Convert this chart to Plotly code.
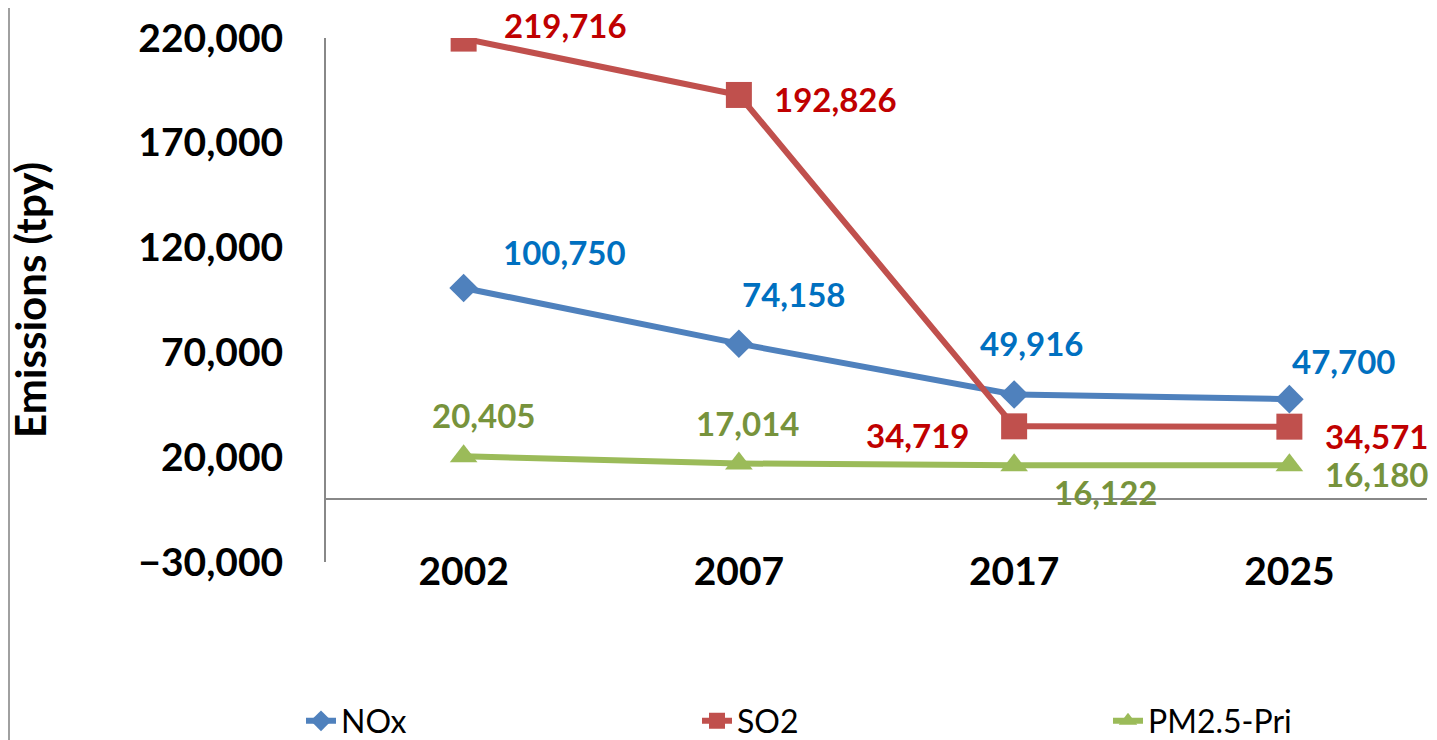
import plotly.graph_objects as go

years = ["2002", "2007", "2017", "2025"]
nox = [100750, 74158, 49916, 47700]
so2 = [219716, 192826, 34719, 34571]
pm25 = [20405, 17014, 16122, 16180]
y_ticks = [-30000, 20000, 70000, 120000, 170000, 220000]

FONT = "Lato"
OFF = 8  # page body margin
W, H = 1437 - OFF, 740 - OFF
PLOT_L, PLOT_R = 326 - OFF, 1427 - OFF
PLOT_T, PLOT_B = 38 - OFF, 562 - OFF
PLOT_W, PLOT_H = PLOT_R - PLOT_L, PLOT_B - PLOT_T

series = [
    ("NOx", nox, "#4F81BD", "#0070C0", "diamond", 22, "legend", 346,
     [(101, 36), (55, 50), (17, 52), (54, 38)]),
    ("SO2", so2, "#C0504D", "#C00000", "square", 26, "legend2", 742,
     [(102, 14), (97, -4), (-97, -9), (87, -9)]),
    ("PM2.5-Pri", pm25, "#9BBB59", "#77933C", "triangle-up", 24, "legend3", 1153,
     [(20, 41), (9, 40), (91, -27), (87, -9)]),
]

fig = go.Figure()
legend_layout = {}
for name, vals, lc, tc, sym, ms, lg, text_x, offs in series:
    fig.add_trace(go.Scatter(
        x=years, y=vals, name=name, mode="lines+markers",
        line=dict(color=lc, width=6),
        marker=dict(symbol=sym, size=ms, color=lc, line=dict(width=0)),
        legend=lg,
    ))
    for i, v in enumerate(vals):
        dx, dy = offs[i]
        fig.add_annotation(
            x=i, y=v, text=f"{v:,}", showarrow=False,
            xshift=dx, yshift=dy,
            font=dict(family=FONT, size=33, color=tc, weight="bold"),
        )
    legend_layout[lg] = dict(
        orientation="h", xref="container", yref="container",
        x=(text_x - 45 - OFF) / W, y=(H - (721 - OFF)) / H,
        xanchor="left", yanchor="middle",
        font=dict(family=FONT, size=32, color="black"),
        bgcolor="rgba(0,0,0,0)",
    )

fig.add_annotation(
    xref="paper", yref="paper", x=(30 - OFF - PLOT_L) / PLOT_W, y=0.5,
    xanchor="center", yanchor="middle",
    text="Emissions (tpy)", textangle=-90, showarrow=False,
    font=dict(family=FONT, size=42, color="black", weight="bold"),
)

# outer chart border (left edge)
fig.add_shape(type="line", xref="paper", yref="paper",
              x0=(1 - PLOT_L) / PLOT_W, x1=(1 - PLOT_L) / PLOT_W,
              y0=-0.5, y1=1.2,
              line=dict(color="#A0A0A0", width=2))

fig.update_layout(
    width=W, height=H,
    margin=dict(l=PLOT_L, r=W - PLOT_R, t=PLOT_T, b=H - PLOT_B),
    plot_bgcolor="white", paper_bgcolor="white",
    font=dict(family=FONT, color="black"),
    showlegend=True,
    xaxis=dict(
        type="category", range=[-0.5, 3.5], showgrid=False, showline=False,
        zeroline=False, ticks="", automargin=False, ticklabelstandoff=-17,
        tickfont=dict(family=FONT, size=39, weight="bold"),
    ),
    yaxis=dict(
        range=[-30000, 220000], tickvals=y_ticks, tickformat=",",
        showgrid=False, showline=True, linecolor="#888888", linewidth=2,
        zeroline=True, zerolinecolor="#888888", zerolinewidth=2,
        ticks="outside", ticklen=33, tickcolor="rgba(0,0,0,0)",
        automargin=False,
        tickfont=dict(family=FONT, size=39, weight="bold"),
    ),
    **legend_layout,
)

fig.write_html("out.html")
